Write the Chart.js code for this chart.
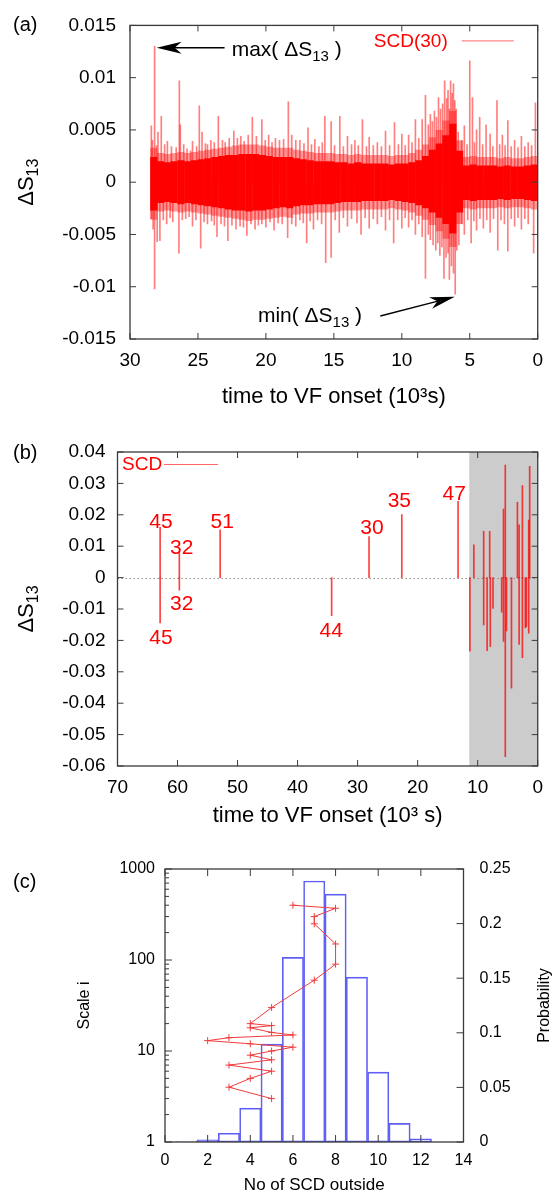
<!DOCTYPE html>
<html>
<head>
<meta charset="utf-8">
<script src="https://cdn.jsdelivr.net/npm/chart.js@4.4.1/dist/chart.umd.min.js"></script>
<style>
  html, body { margin: 0; padding: 0; background: #fff; }
  #wrap { position: relative; width: 553px; height: 1194px; overflow: hidden; }
  canvas { position: absolute; left: 0; }
</style>
</head>
<body>
<div id="wrap">
  <canvas id="chartA" width="553" height="410" style="top:0"></canvas>
  <canvas id="chartB" width="553" height="430" style="top:405px"></canvas>
  <canvas id="chartC" width="553" height="359" style="top:835px"></canvas>
</div>
<script>
// ---- (a) SCD(30): dense core band per 0.5 bin, its lighter fringe, plus the larger spikes
const aBandTime = [28.25, 27.75, 27.25, 26.75, 26.25, 25.75, 25.25, 24.75, 24.25, 23.75, 23.25, 22.75, 22.25, 21.75, 21.25,
  20.75, 20.25, 19.75, 19.25, 18.75, 18.25, 17.75, 17.25, 16.75, 16.25, 15.75, 15.25, 14.75, 14.25, 13.75, 13.25, 12.75,
  12.25, 11.75, 11.25, 10.75, 10.25, 9.75, 9.25, 8.75, 8.25, 7.75, 7.25, 6.75, 6.25, 5.75, 5.25, 4.75, 4.25, 3.75, 3.25,
  2.75, 2.25, 1.75, 1.25, 0.75, 0.25];
const aBandHigh = [0.0024, 0.0020, 0.0019, 0.0020, 0.0021, 0.0020, 0.0021, 0.0022, 0.0023, 0.0024, 0.0025, 0.0026, 0.0026, 0.0027, 0.0027,
  0.0027, 0.0026, 0.0025, 0.0024, 0.0024, 0.0024, 0.0023, 0.0022, 0.0021, 0.0020, 0.0020, 0.0020, 0.0019, 0.0019, 0.0018, 0.0019, 0.0018,
  0.0018, 0.0018, 0.0018, 0.0017, 0.0018, 0.0018, 0.0019, 0.0021, 0.0025, 0.0031, 0.0037, 0.0045, 0.0056, 0.0030, 0.0016, 0.0017, 0.0016, 0.0016, 0.0016,
  0.0015, 0.0016, 0.0015, 0.0015, 0.0016, 0.0017];
const aBandLow = [-0.0027, -0.0020, -0.0019, -0.0020, -0.0021, -0.0020, -0.0021, -0.0022, -0.0023, -0.0024, -0.0025, -0.0026, -0.0027, -0.0027, -0.0028,
  -0.0027, -0.0027, -0.0026, -0.0025, -0.0024, -0.0025, -0.0023, -0.0022, -0.0022, -0.0021, -0.0021, -0.0021, -0.0020, -0.0019, -0.0019, -0.0019, -0.0018,
  -0.0018, -0.0018, -0.0018, -0.0017, -0.0018, -0.0019, -0.0020, -0.0022, -0.0025, -0.0029, -0.0034, -0.0040, -0.0049, -0.0029, -0.0017, -0.0018, -0.0017, -0.0017, -0.0017,
  -0.0016, -0.0017, -0.0016, -0.0016, -0.0017, -0.0018];
const aFringeHigh = [0.0033, 0.0028, 0.0027, 0.0028, 0.0029, 0.0028, 0.0029, 0.0030, 0.0031, 0.0032,
  0.0033, 0.0034, 0.0035, 0.0036, 0.0036, 0.0036, 0.0035, 0.0034, 0.0033, 0.0033,
  0.0033, 0.0031, 0.0030, 0.0029, 0.0028, 0.0028, 0.0028, 0.0027, 0.0027, 0.0026,
  0.0027, 0.0026, 0.0026, 0.0026, 0.0026, 0.0025, 0.0026, 0.0026, 0.0028, 0.0031,
  0.0036, 0.0043, 0.0050, 0.0059, 0.0068, 0.0040, 0.0024, 0.0025, 0.0024, 0.0024,
  0.0024, 0.0023, 0.0024, 0.0023, 0.0023, 0.0024, 0.0025];
const aFringeLow = [-0.0036, -0.0028, -0.0027, -0.0028, -0.0029, -0.0028, -0.0029, -0.0030, -0.0031, -0.0032,
  -0.0033, -0.0034, -0.0035, -0.0036, -0.0037, -0.0036, -0.0036, -0.0035, -0.0034, -0.0033,
  -0.0034, -0.0031, -0.0030, -0.0030, -0.0029, -0.0029, -0.0029, -0.0028, -0.0027, -0.0027,
  -0.0027, -0.0026, -0.0026, -0.0026, -0.0026, -0.0025, -0.0026, -0.0027, -0.0029, -0.0032,
  -0.0036, -0.0041, -0.0047, -0.0054, -0.0062, -0.0040, -0.0025, -0.0026, -0.0025, -0.0025,
  -0.0025, -0.0024, -0.0025, -0.0024, -0.0024, -0.0025, -0.0026];

const aUpTime = [28.43, 28.35, 28.19, 28.05, 27.94, 27.70, 27.45, 27.25, 26.95, 26.60,
  26.37, 26.30, 26.05, 25.80, 25.55, 25.40, 25.10, 24.90, 24.70, 24.45,
  24.30, 24.05, 23.80, 23.50, 23.20, 23.00, 22.70, 22.36, 22.10, 21.85,
  21.60, 21.30, 21.00, 20.70, 20.30, 20.05, 19.80, 19.55, 19.30, 19.00,
  18.70, 18.35, 18.10, 17.80, 17.50, 17.20, 16.90, 16.65, 16.40, 16.10,
  15.85, 15.66, 15.20, 14.95, 14.56, 14.30, 14.00, 13.70, 13.45, 13.20,
  12.90, 12.60, 12.40, 12.10, 11.80, 11.50, 11.20, 10.90, 10.54, 10.25,
  10.00, 9.75, 9.50, 9.25, 9.00, 8.75, 8.50, 8.26, 8.05, 7.90,
  7.75, 7.60, 7.45, 7.30, 7.15, 7.00, 6.85, 6.70, 6.60, 6.50,
  6.41, 6.30, 6.20, 6.10, 6.00, 5.85, 5.60, 5.40, 5.20, 5.00,
  4.80, 4.65, 4.50, 4.27, 4.05, 3.80, 3.50, 3.30, 3.00, 2.80,
  2.60, 2.40, 2.20, 1.95, 1.70, 1.45, 1.20, 0.95, 0.70, 0.45, 0.17];
const aUpValue = [0.0054, 0.0040, 0.0130, 0.0035, 0.0048, 0.0063, 0.0036, 0.0039, 0.0034, 0.0033,
  0.0097, 0.0055, 0.0036, 0.0032, 0.0030, 0.0039, 0.0034, 0.0073, 0.0048, 0.0037,
  0.0036, 0.0040, 0.0038, 0.0063, 0.0040, 0.0038, 0.0042, 0.0049, 0.0042, 0.0044,
  0.0039, 0.0045, 0.0062, 0.0044, 0.0060, 0.0040, 0.0045, 0.0038, 0.0042, 0.0040,
  0.0041, 0.0077, 0.0045, 0.0040, 0.0040, 0.0037, 0.0052, 0.0036, 0.0041, 0.0034,
  0.0038, 0.0063, 0.0058, 0.0035, 0.0063, 0.0034, 0.0044, 0.0036, 0.0040, 0.0035,
  0.0060, 0.0034, 0.0043, 0.0035, 0.0038, 0.0034, 0.0049, 0.0035, 0.0057, 0.0036,
  0.0046, 0.0035, 0.0045, 0.0038, 0.0060, 0.0042, 0.0060, 0.0083, 0.0055, 0.0065,
  0.0058, 0.0068, 0.0062, 0.0081, 0.0070, 0.0075, 0.0097, 0.0080, 0.0088, 0.0070,
  0.0097, 0.0085, 0.0094, 0.0078, 0.0070, 0.0048, 0.0040, 0.0054, 0.0036, 0.0116,
  0.0081, 0.0038, 0.0050, 0.0062, 0.0036, 0.0055, 0.0046, 0.0034, 0.0078, 0.0036,
  0.0045, 0.0035, 0.0059, 0.0034, 0.0040, 0.0033, 0.0044, 0.0034, 0.0038, 0.0035, 0.0076];
const aDownTime = [28.43, 28.30, 28.19, 28.00, 27.80, 27.55, 27.30, 27.05, 26.85, 26.40,
  26.15, 25.90, 25.65, 25.40, 25.15, 24.80, 24.55, 24.30, 24.00, 23.80,
  23.60, 23.30, 23.05, 22.80, 22.50, 22.20, 21.90, 21.65, 21.40, 21.10,
  20.80, 20.55, 20.30, 20.00, 19.70, 19.40, 19.10, 18.80, 18.40, 18.10,
  17.80, 17.50, 17.25, 17.00, 16.75, 16.50, 16.20, 15.90, 15.60, 15.20,
  14.90, 14.60, 14.30, 14.00, 13.70, 13.30, 13.00, 12.70, 12.40, 12.10,
  11.80, 11.50, 11.20, 10.90, 10.60, 10.30, 10.00, 9.75, 9.50, 9.25,
  9.00, 8.75, 8.50, 8.26, 8.05, 7.90, 7.70, 7.50, 7.35, 7.20,
  7.05, 6.90, 6.75, 6.60, 6.50, 6.35, 6.20, 6.07, 5.95, 5.80,
  5.60, 5.40, 5.15, 4.90, 4.70, 4.50, 4.25, 4.00, 3.75, 3.50,
  3.25, 2.94, 2.70, 2.45, 2.20, 1.95, 1.70, 1.45, 1.20, 0.95, 0.70, 0.30];
const aDownValue = [-0.0035, -0.0045, -0.0102, -0.0057, -0.0056, -0.0036, -0.0040, -0.0034, -0.0038, -0.0068,
  -0.0036, -0.0035, -0.0033, -0.0042, -0.0036, -0.0063, -0.0038, -0.0040, -0.0037, -0.0041,
  -0.0052, -0.0040, -0.0042, -0.0056, -0.0041, -0.0045, -0.0042, -0.0043, -0.0051, -0.0040,
  -0.0045, -0.0041, -0.0040, -0.0043, -0.0038, -0.0046, -0.0039, -0.0040, -0.0053, -0.0040,
  -0.0042, -0.0036, -0.0039, -0.0058, -0.0037, -0.0045, -0.0036, -0.0040, -0.0077, -0.0072,
  -0.0036, -0.0048, -0.0034, -0.0042, -0.0035, -0.0039, -0.0050, -0.0034, -0.0044, -0.0035,
  -0.0040, -0.0033, -0.0046, -0.0036, -0.0058, -0.0036, -0.0044, -0.0034, -0.0043, -0.0036,
  -0.0050, -0.0040, -0.0052, -0.0092, -0.0050, -0.0055, -0.0060, -0.0065, -0.0058, -0.0070,
  -0.0062, -0.0092, -0.0072, -0.0068, -0.0093, -0.0080, -0.0087, -0.0107, -0.0065, -0.0060,
  -0.0040, -0.0050, -0.0036, -0.0058, -0.0037, -0.0046, -0.0035, -0.0044, -0.0036, -0.0048,
  -0.0035, -0.0065, -0.0036, -0.0040, -0.0066, -0.0035, -0.0042, -0.0034, -0.0045, -0.0035, -0.0040, -0.0068];

// ---- (b) SCD: impulses and their window labels
const bTime = [62.9, 62.9, 59.7, 59.7, 52.9, 34.33, 28.1, 22.64, 13.27, 11.3,
  10.64, 9.0, 9.0, 8.43, 8.0, 7.9, 7.45, 6.0, 5.7, 5.7,
  5.4, 5.4, 5.2, 4.37, 3.38, 3.1, 3.1, 2.55, 2.55, 2.06,
  1.9, 1.5, 1.5, 1.34];
const bValue = [0.016, -0.0144, 0.0077, -0.004, 0.0152, -0.0121, 0.0131, 0.0201, 0.0243, -0.0234,
  0.0104, 0.0147, -0.0151, -0.0233, 0.0147, -0.022, -0.0098, -0.011, 0.0218, -0.0203,
  0.0358, -0.057, -0.017, -0.0352, 0.024, 0.0168, -0.0213, 0.0293, -0.0255, -0.016,
  -0.0156, 0.0183, -0.0177, 0.0354];
const bLabelText = ['45', '32', '51', '30', '35', '47', '32', '45', '44'];
const bLabelTime = [62.75, 59.3, 52.55, 27.6, 23.05, 13.9, 59.3, 62.75, 34.4];
const bLabelValue = [0.0177, 0.0095, 0.0175, 0.0156, 0.0244, 0.0267, -0.0084, -0.0192, -0.017];
const bShade = [11.4, 0];

// ---- (c) histogram (probability) and scale i vs number of SCD outside
const cBinCenter = [1, 2, 3, 4, 5, 6, 7, 8, 9, 10, 11, 12, 13];
const cProbability = [0.0003, 0.002, 0.008, 0.031, 0.0897, 0.169, 0.239, 0.227, 0.151, 0.064, 0.017, 0.003, 0.0002];
const cScale = [3, 4, 5, 6, 7, 8, 9, 10, 11, 12, 13, 14, 15, 16, 18, 19, 20, 30, 60, 90, 150, 250, 300, 370, 400];
const cOutside = [5, 3, 4, 5, 3, 5, 4, 5, 6, 4, 2, 3, 6, 5, 4, 5, 4, 5, 7, 8, 8, 7, 7, 8, 6];

const FONT = '"Liberation Sans", Arial, Helvetica, sans-serif';
Chart.defaults.font.family = FONT;
Chart.defaults.color = '#000';
const fmt = v => String(parseFloat(Number(v).toFixed(4)));

function rich(ctx, parts, x, y, align) {
  let w = 0;
  for (const p of parts) { ctx.font = p[1] + 'px ' + FONT; w += ctx.measureText(p[0]).width; }
  let cx = align === 'center' ? x - w / 2 : (align === 'right' ? x - w : x);
  ctx.textAlign = 'left';
  for (const p of parts) {
    ctx.font = p[1] + 'px ' + FONT;
    ctx.fillText(p[0], cx, y + (p[2] || 0));
    cx += ctx.measureText(p[0]).width;
  }
}

function rotatedText(ctx, x, y, parts, baseline) {
  ctx.save();
  ctx.translate(x, y);
  ctx.rotate(-Math.PI / 2);
  ctx.textBaseline = baseline || 'alphabetic';
  ctx.fillStyle = '#000';
  rich(ctx, parts, 0, 0, 'center');
  ctx.restore();
}

function tickLines(chart, id, sides, len, values) {
  const s = chart.scales[id], a = chart.chartArea, ctx = chart.ctx;
  const vals = values || s.ticks.map(t => t.value);
  for (const v of vals) {
    const p = s.getPixelForValue(v);
    for (const side of sides) {
      if (side === 'bottom') { ctx.moveTo(p, a.bottom); ctx.lineTo(p, a.bottom - len); }
      if (side === 'top') { ctx.moveTo(p, a.top); ctx.lineTo(p, a.top + len); }
      if (side === 'left') { ctx.moveTo(a.left, p); ctx.lineTo(a.left + len, p); }
      if (side === 'right') { ctx.moveTo(a.right, p); ctx.lineTo(a.right - len, p); }
    }
  }
}

function drawFrame(chart, specs) {
  const ctx = chart.ctx, a = chart.chartArea;
  ctx.save();
  ctx.strokeStyle = '#3a3a3a';
  ctx.lineWidth = 1;
  ctx.beginPath();
  specs.forEach(sp => tickLines(chart, ...sp));
  ctx.stroke();
  ctx.lineWidth = 1.3;
  ctx.strokeRect(a.left, a.top, a.right - a.left, a.bottom - a.top);
  ctx.restore();
}

function arrow(ctx, x1, y1, x2, y2) {
  const ang = Math.atan2(y2 - y1, x2 - x1);
  const L = 25, W = 6;
  ctx.beginPath();
  ctx.moveTo(x1, y1);
  ctx.lineTo(x2 - Math.cos(ang) * L * 0.7, y2 - Math.sin(ang) * L * 0.7);
  ctx.stroke();
  ctx.save();
  ctx.translate(x2, y2);
  ctx.rotate(ang);
  ctx.beginPath();
  ctx.moveTo(0, 0);
  ctx.lineTo(-L, -W);
  ctx.lineTo(-L * 0.72, 0);
  ctx.lineTo(-L, W);
  ctx.closePath();
  ctx.fill();
  ctx.restore();
}

const noGrid = { display: false, drawTicks: false };
const noBorder = { display: false };

// ---------------- panel (a)
const panelA = {
  id: 'panelA',
  afterDraw(chart) {
    const { ctx, chartArea: a, scales: { x, y } } = chart;
    drawFrame(chart, [['x', ['bottom', 'top'], 6], ['y', ['left', 'right'], 6]]);
    ctx.save();
    ctx.fillStyle = '#000';
    ctx.strokeStyle = '#000';
    ctx.lineWidth = 1.3;
    ctx.textBaseline = 'alphabetic';
    // max / min annotations
    arrow(ctx, x.getPixelForValue(23.04), y.getPixelForValue(0.01286), x.getPixelForValue(28.04), y.getPixelForValue(0.01286));
    rich(ctx, [['max( ', 21], ['\u0394S', 21], ['13', 15, 5], [' )', 21]], x.getPixelForValue(22.52), y.getPixelForValue(0.01207), 'left');
    arrow(ctx, x.getPixelForValue(11.58), y.getPixelForValue(-0.0128), x.getPixelForValue(6.1), y.getPixelForValue(-0.01095));
    rich(ctx, [['min( ', 21], ['\u0394S', 21], ['13', 15, 5], [' )', 21]], x.getPixelForValue(20.59), y.getPixelForValue(-0.01336), 'left');
    // legend
    ctx.fillStyle = 'rgb(255,0,0)';
    ctx.textBaseline = 'middle';
    ctx.font = '19px ' + FONT;
    ctx.textAlign = 'right';
    ctx.fillText('SCD(30)', a.right - 90, a.top + 16);
    ctx.strokeStyle = 'rgba(255,0,0,0.6)';
    ctx.lineWidth = 1;
    ctx.beginPath(); ctx.moveTo(a.right - 76, a.top + 15.5); ctx.lineTo(a.right - 24, a.top + 15.5); ctx.stroke();
    // panel letter
    ctx.fillStyle = '#000';
    ctx.textAlign = 'left';
    ctx.font = '20px ' + FONT;
    ctx.fillText('(a)', 13, 25);
    ctx.restore();
    rotatedText(ctx, 33, (a.top + a.bottom) / 2, [['\u0394S', 22], ['13', 16, 5]]);
  }
};

new Chart(document.getElementById('chartA'), {
  type: 'bar',
  data: {
    datasets: [
      {
        label: 'SCD(30) spikes', xAxisID: 'xs', grouped: false, barThickness: 1,
        backgroundColor: 'rgba(255,0,0,0.5)',
        data: aUpTime.map((t, i) => ({ x: t, y: [0, aUpValue[i]] }))
          .concat(aDownTime.map((t, i) => ({ x: t, y: [0, aDownValue[i]] })))
      },
      {
        label: 'SCD(30)', grouped: false, barPercentage: 1.05, categoryPercentage: 1,
        backgroundColor: 'rgb(255,0,0)',
        data: aBandTime.map((t, i) => ({ x: t, y: [aBandLow[i], aBandHigh[i]] }))
      },
      {
        label: 'SCD(30) fringe', grouped: false, barPercentage: 1.05, categoryPercentage: 1,
        backgroundColor: 'rgba(255,0,0,0.4)',
        data: aBandTime.map((t, i) => ({ x: t, y: [aFringeLow[i], aFringeHigh[i]] }))
      }
    ]
  },
  options: {
    responsive: false, animation: false,
    layout: { padding: { top: 24, right: 11, left: 0, bottom: 0 } },
    scales: {
      x: {
        type: 'linear', offset: false, min: 0, max: 30, reverse: true, grid: noGrid, border: noBorder,
        ticks: { stepSize: 5, padding: 10, font: { size: 19 } },
        title: { display: true, text: 'time to VF onset (10\u00B3s)', font: { size: 22 }, padding: { top: 0, bottom: 0 } },
        afterFit: s => { s.height = 71; }
      },
      xs: { type: 'linear', offset: false, min: 0, max: 30, reverse: true, display: false },
      y: {
        min: -0.015, max: 0.015, grid: noGrid, border: noBorder,
        ticks: { stepSize: 0.005, padding: 14, font: { size: 19 }, callback: fmt },
        afterFit: s => { s.width = 130; }
      }
    },
    plugins: { legend: { display: false }, tooltip: { enabled: false } }
  },
  plugins: [panelA]
});

// ---------------- panel (b)
const panelB = {
  id: 'panelB',
  beforeDatasetsDraw(chart) {
    const { ctx, chartArea: a, scales: { x, y } } = chart;
    ctx.save();
    ctx.fillStyle = '#cccccc';
    const x0 = x.getPixelForValue(bShade[0]), x1 = x.getPixelForValue(bShade[1]);
    ctx.fillRect(x0, a.top, x1 - x0, a.bottom - a.top);
    ctx.strokeStyle = '#8a8a8a';
    ctx.lineWidth = 1;
    ctx.setLineDash([1.5, 2.5]);
    const y0 = Math.round(y.getPixelForValue(0)) + 0.5;
    ctx.beginPath(); ctx.moveTo(a.left, y0); ctx.lineTo(a.right, y0); ctx.stroke();
    ctx.restore();
  },
  afterDraw(chart) {
    const { ctx, chartArea: a, scales: { x, y } } = chart;
    drawFrame(chart, [['x', ['bottom', 'top'], 6], ['y', ['left', 'right'], 6]]);
    ctx.save();
    ctx.fillStyle = 'rgb(255,0,0)';
    ctx.textAlign = 'center';
    ctx.textBaseline = 'middle';
    ctx.font = '21px ' + FONT;
    bLabelText.forEach((t, i) => ctx.fillText(t, x.getPixelForValue(bLabelTime[i]), y.getPixelForValue(bLabelValue[i])));
    ctx.font = '19px ' + FONT;
    ctx.textAlign = 'left';
    ctx.fillText('SCD', a.left + 4.5, a.top + 13);
    ctx.strokeStyle = 'rgba(255,0,0,0.6)';
    ctx.lineWidth = 1;
    ctx.beginPath(); ctx.moveTo(a.left + 46.5, a.top + 12.5); ctx.lineTo(a.left + 100.5, a.top + 12.5); ctx.stroke();
    ctx.fillStyle = '#000';
    ctx.font = '20px ' + FONT;
    ctx.fillText('(b)', 13, 48);
    ctx.restore();
    rotatedText(ctx, 33, (a.top + a.bottom) / 2, [['\u0394S', 22], ['13', 16, 5]]);
  }
};

new Chart(document.getElementById('chartB'), {
  type: 'bar',
  data: {
    datasets: [{
      label: 'SCD', barThickness: 1, backgroundColor: 'rgba(255,0,0,0.75)',
      data: bTime.map((t, i) => ({ x: t, y: [0, bValue[i]] }))
    }]
  },
  options: {
    responsive: false, animation: false,
    layout: { padding: { top: 47, right: 11, left: 0, bottom: 0 } },
    scales: {
      x: {
        type: 'linear', offset: false, min: 0, max: 70, reverse: true, grid: noGrid, border: noBorder,
        ticks: { stepSize: 10, padding: 10, font: { size: 19 } },
        title: { display: true, text: 'time to VF onset (10\u00B3 s)', font: { size: 22 }, padding: { top: 0, bottom: 5.8 } },
        afterFit: s => { s.height = 69; }
      },
      y: {
        min: -0.06, max: 0.04, grid: noGrid, border: noBorder,
        ticks: { stepSize: 0.01, padding: 12, font: { size: 19 }, callback: fmt },
        afterFit: s => { s.width = 117.5; }
      }
    },
    plugins: { legend: { display: false }, tooltip: { enabled: false } }
  },
  plugins: [panelB]
});

// ---------------- panel (c)
const logMajor = [1, 10, 100, 1000];
const logMinor = [];
[1, 10, 100].forEach(d => { for (let k = 2; k <= 9; k++) logMinor.push(k * d); });

const panelC = {
  id: 'panelC',
  afterDraw(chart) {
    const { ctx, chartArea: a } = chart;
    drawFrame(chart, [
      ['x', ['bottom', 'top'], 7],
      ['y', ['left'], 7, logMajor],
      ['y', ['left'], 4, logMinor],
      ['y2', ['right'], 7]
    ]);
    ctx.save();
    ctx.fillStyle = '#000';
    ctx.textAlign = 'left';
    ctx.textBaseline = 'middle';
    ctx.font = '20px ' + FONT;
    ctx.fillText('(c)', 13, 47);
    ctx.restore();
    const mid = (a.top + a.bottom) / 2;
    rotatedText(ctx, 85, mid, [['Scale i', 16]], 'middle');
    rotatedText(ctx, 545, mid, [['Probability', 16]], 'middle');
  }
};

new Chart(document.getElementById('chartC'), {
  type: 'bar',
  data: {
    datasets: [
      {
        type: 'line', label: 'scale i', yAxisID: 'y',
        data: cOutside.map((v, i) => ({ x: v, y: cScale[i] })),
        borderColor: 'rgb(240,60,60)', borderWidth: 1, tension: 0, fill: false,
        pointStyle: 'cross', pointRadius: 3.5, pointBorderWidth: 1, pointBorderColor: 'rgb(240,60,60)'
      },
      {
        label: 'probability', yAxisID: 'y2',
        data: cBinCenter.map((c, i) => ({ x: c, y: cProbability[i] })),
        backgroundColor: 'rgba(0,0,0,0)', borderColor: 'rgb(95,95,245)', borderWidth: 1,
        borderSkipped: false, barPercentage: 1, categoryPercentage: 1
      }
    ]
  },
  options: {
    responsive: false, animation: false,
    layout: { padding: { top: 34, right: 0, left: 0, bottom: 0 } },
    scales: {
      x: {
        type: 'linear', offset: false, min: 0, max: 14, grid: noGrid, border: noBorder,
        ticks: { stepSize: 2, padding: 9, font: { size: 16 } },
        title: { display: true, text: 'No of SCD outside', font: { size: 17, lineHeight: 1 }, padding: 0 },
        afterFit: s => { s.height = 52; }
      },
      y: {
        type: 'logarithmic', position: 'left', min: 1, max: 1000, grid: noGrid, border: noBorder,
        ticks: {
          autoSkip: false, padding: 10, font: { size: 16 },
          callback: v => (logMajor.includes(Math.round(v)) && Math.abs(v - Math.round(v)) < 1e-6 ? String(Math.round(v)) : '')
        },
        afterFit: s => { s.width = 165; }
      },
      y2: {
        type: 'linear', position: 'right', min: 0, max: 0.25, grid: noGrid, border: noBorder,
        ticks: { stepSize: 0.05, padding: 16, font: { size: 16 }, callback: fmt },
        afterFit: s => { s.width = 89.5; }
      }
    },
    plugins: { legend: { display: false }, tooltip: { enabled: false } }
  },
  plugins: [panelC]
});
</script>
</body>
</html>
